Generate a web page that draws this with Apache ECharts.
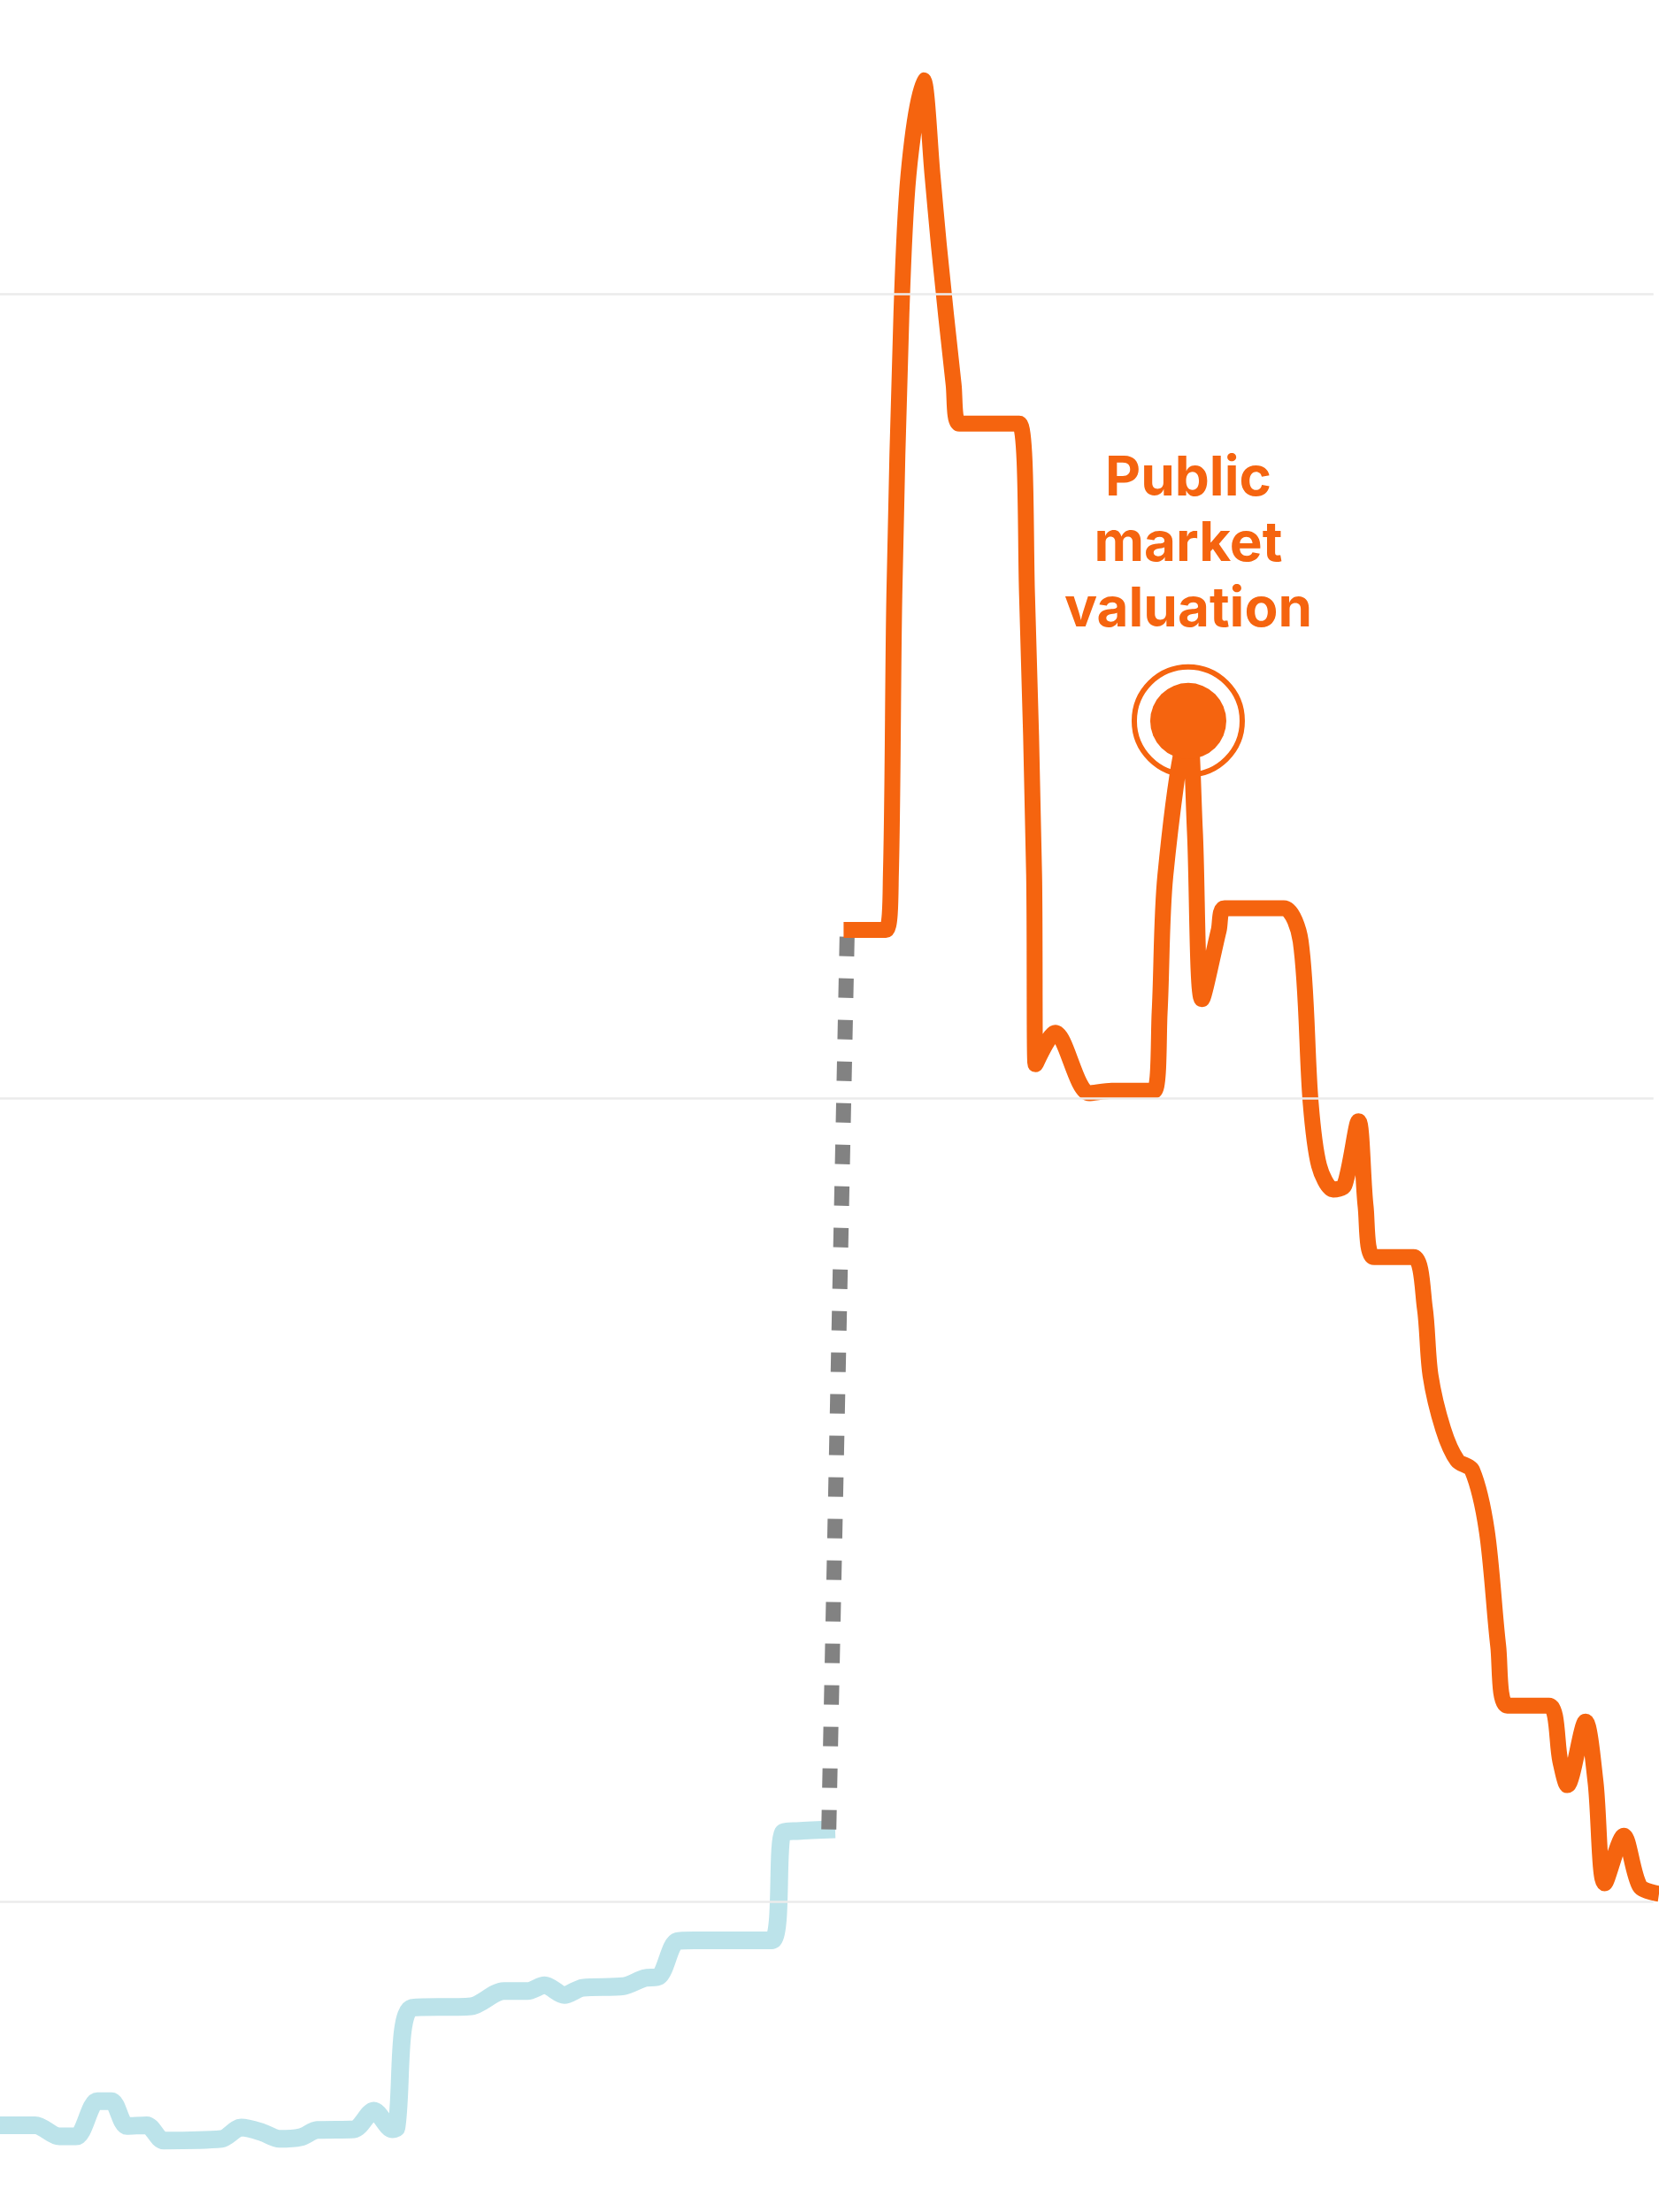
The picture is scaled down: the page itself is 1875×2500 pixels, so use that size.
<!DOCTYPE html>
<html>
<head>
    <meta charset="utf-8">
    <title>Valuation</title>
    <script src="https://cdn.jsdelivr.net/npm/echarts@6/dist/echarts.min.js"></script>
    <style>
        html, body { margin: 0; padding: 0; background: #fff; }
        #chart { width: 1875px; height: 2500px; }
    </style>
</head>
<body>
<div id="chart"></div>
<script type="text/javascript">
// x: months from the start of the window, y: valuation
var privateX = [0, 2.55, 4.29, 5.51, 7.04, 8.06, 9.18, 10.61, 11.84, 16.02, 17.45, 18.98, 20.20, 21.73, 22.96, 25.61, 27.04, 28.37, 28.68,
    29.80, 34.08, 36.43, 38.16, 39.39, 40.82, 42.14, 45.10, 46.63, 47.65, 48.98, 50.20, 55.82, 56.63, 57.65, 60.41];
var privateY = [7.22, 7.22, 7.08, 7.08, 7.52, 7.52, 7.21, 7.22, 7.03, 7.05, 7.19, 7.13, 7.05, 7.07, 7.16, 7.17, 7.40, 7.17, 7.19,
    8.68, 8.70, 8.89, 8.89, 8.96, 8.84, 8.93, 8.95, 9.05, 9.07, 9.51, 9.52, 9.52, 10.86, 10.88, 10.90];

var publicX = [61.02, 64.08, 64.44, 64.69, 65.20, 65.71, 66.79, 67.45, 67.91, 68.98, 69.39, 73.72, 74.29, 74.80, 74.90,
    76.33, 78.78, 80.41, 83.47, 83.88, 84.29, 85.95, 86.43, 86.94, 88.16, 88.57, 92.86, 94.08, 94.80, 95.41, 96.43,
    97.24, 98.27, 98.78, 99.39, 102.24, 103.06, 103.47, 104.39, 105.41, 106.48, 107.55, 108.37, 109.03, 112.04,
    112.86, 113.37, 114.69, 115.41, 116.07, 117.45, 118.62, 120.0];
var publicY = [22.09, 22.09, 22.78, 26.25, 29.75, 31.48, 32.66, 31.48, 30.61, 28.87, 28.39, 28.39, 26.25, 22.78, 20.42,
    20.81, 20.06, 20.09, 20.09, 21.07, 22.76, 24.69, 23.32, 21.23, 22.09, 22.36, 22.36, 21.95, 19.95, 19.16, 18.86,
    18.91, 19.71, 18.65, 18.02, 18.02, 17.39, 16.55, 15.88, 15.49, 15.37, 14.61, 13.18, 12.44, 12.44,
    11.75, 11.45, 12.24, 11.49, 10.23, 10.82, 10.19, 10.10];

// dotted bridge between last private round and first trading day
var gapX = [59.95, 61.28];
var gapY = [10.90, 22.09];

var gridValues = [10, 20, 30];
var annotationIndex = 21;
var annotationText = 'Public\nmarket\nvaluation';

var ORANGE = '#f5640f';

function pairs(xs, ys) {
    var out = [];
    for (var i = 0; i < xs.length; i++) {
        out.push([xs[i], ys[i]]);
    }
    return out;
}

var chart = echarts.init(document.getElementById('chart'));

var gridLines = gridValues.map(function (v) {
    return [{ coord: [0, v] }, { coord: [119.6, v] }];
});

chart.setOption({
    animation: false,
    backgroundColor: '#ffffff',
    grid: { left: 0, right: 0, top: 0, bottom: 0 },
    xAxis: {
        type: 'value', min: 0, max: 120,
        show: false
    },
    yAxis: {
        type: 'value', min: 6.14, max: 33.66,
        show: false,
        splitLine: { show: false }
    },
    series: [
        {
            // horizontal guide lines
            type: 'line',
            data: [],
            z: 0,
            silent: true,
            markLine: {
                silent: true,
                symbol: ['none', 'none'],
                label: { show: false },
                lineStyle: { color: '#ebebeb', width: 2.5, type: 'solid' },
                data: gridLines
            }
        },
        {
            name: 'Private',
            type: 'line',
            data: pairs(privateX, privateY),
            smooth: 0.3,
            showSymbol: false,
            z: 2,
            lineStyle: { color: '#8fd0dc', width: 20, opacity: 0.6, join: 'round' }
        },
        {
            name: 'Gap',
            type: 'line',
            data: pairs(gapX, gapY),
            showSymbol: false,
            z: 2,
            lineStyle: { color: '#828282', width: 17, type: [22, 25], cap: 'butt' }
        },
        {
            // ring around the annotated point, under the line
            type: 'scatter',
            data: [[publicX[annotationIndex], publicY[annotationIndex]]],
            symbol: 'circle',
            symbolSize: 122,
            z: 3,
            silent: true,
            itemStyle: { color: 'rgba(0,0,0,0)', borderColor: ORANGE, borderWidth: 6, opacity: 1 }
        },
        {
            name: 'Public',
            type: 'line',
            data: pairs(publicX, publicY),
            smooth: 0.3,
            showSymbol: false,
            z: 4,
            lineStyle: { color: ORANGE, width: 18, join: 'round', cap: 'butt' }
        },
        {
            type: 'scatter',
            data: [[publicX[annotationIndex], publicY[annotationIndex]]],
            symbol: 'circle',
            symbolSize: 86,
            z: 5,
            silent: true,
            itemStyle: { color: ORANGE, opacity: 1 },
            label: {
                show: true,
                position: 'top',
                distance: 46,
                formatter: annotationText,
                color: ORANGE,
                fontFamily: 'Inter',
                fontWeight: 700,
                fontSize: 62,
                lineHeight: 74,
                align: 'center'
            }
        }
    ]
});
</script>
</body>
</html>
